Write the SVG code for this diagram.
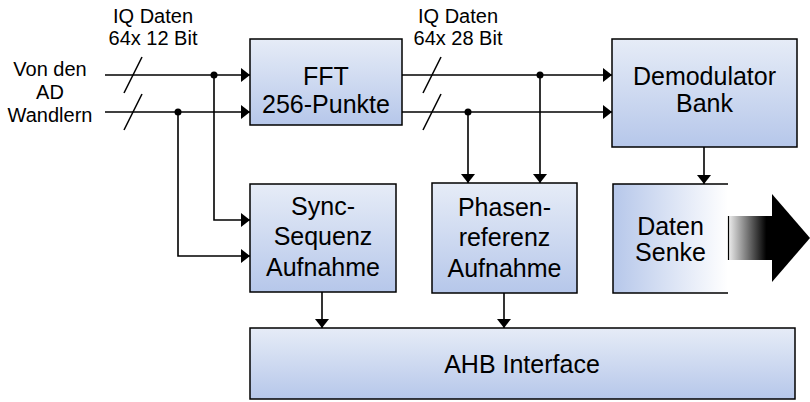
<svg xmlns="http://www.w3.org/2000/svg" width="810" height="402" viewBox="0 0 810 402">
  <style>
    .box { fill: url(#boxFill); stroke: #000; stroke-width: 1.5; }
    .lbl { font-family: "Liberation Sans", Arial, sans-serif; font-size: 20px; fill: #000; text-anchor: middle; }
    .txt { font-family: "Liberation Sans", Arial, sans-serif; font-size: 25px; fill: #000; text-anchor: middle; }
    .wire { fill: none; stroke: #000; stroke-width: 1.6; }
    .arr { marker-end: url(#head); }
    .dot { fill: #000; }
  </style>
  <defs>
    <linearGradient id="boxFill" x1="0" y1="0" x2="0" y2="1">
      <stop offset="0" stop-color="#e6ecf7"/>
      <stop offset="1" stop-color="#b6c7ea"/>
    </linearGradient>
    <linearGradient id="sinkFill" x1="0" y1="0" x2="1" y2="0">
      <stop offset="0" stop-color="#b6c7ea"/>
      <stop offset="1" stop-color="#ffffff"/>
    </linearGradient>
    <linearGradient id="outFill" x1="0" y1="0" x2="1" y2="0">
      <stop offset="0" stop-color="#f0f0f0"/>
      <stop offset="0.85" stop-color="#000000"/>
      <stop offset="1" stop-color="#000000"/>
    </linearGradient>
    <marker id="head" markerUnits="userSpaceOnUse" markerWidth="10" markerHeight="14" refX="9" refY="7" orient="auto">
      <path d="M0,0 L9,7 L0,14 z" fill="#000"/>
    </marker>
  </defs>

  <!-- bus labels -->
  <g id="labels">
    <text class="lbl" x="153" y="23">IQ Daten</text>
    <text class="lbl" x="153" y="45">64x 12 Bit</text>
    <text class="lbl" x="458" y="23">IQ Daten</text>
    <text class="lbl" x="458" y="45">64x 28 Bit</text>
    <text class="lbl" x="50" y="76">Von den</text>
    <text class="lbl" x="50" y="99">AD</text>
    <text class="lbl" x="50" y="122">Wandlern</text>
  </g>

  <!-- blocks -->
  <g id="fft">
    <rect class="box" x="250" y="39" width="152" height="86"/>
    <text class="txt" x="326" y="85">FFT</text>
    <text class="txt" x="326" y="113">256-Punkte</text>
  </g>
  <g id="demod">
    <rect class="box" x="612" y="39" width="185" height="108"/>
    <text class="txt" x="704.5" y="85">Demodulator</text>
    <text class="txt" x="704.5" y="112">Bank</text>
  </g>
  <g id="sync">
    <rect class="box" x="250" y="184" width="146" height="108"/>
    <text class="txt" x="323" y="215">Sync-</text>
    <text class="txt" x="323" y="245">Sequenz</text>
    <text class="txt" x="323" y="276">Aufnahme</text>
  </g>
  <g id="phase">
    <rect class="box" x="432" y="183" width="145" height="110"/>
    <text class="txt" x="504.5" y="216">Phasen-</text>
    <text class="txt" x="504.5" y="246">referenz</text>
    <text class="txt" x="504.5" y="277">Aufnahme</text>
  </g>
  <g id="sink">
    <rect x="613" y="184" width="115" height="109" fill="url(#sinkFill)"/>
    <path d="M728,184 H613 V293 H728" fill="none" stroke="#000" stroke-width="1.5"/>
    <text class="txt" x="670.5" y="235">Daten</text>
    <text class="txt" x="670.5" y="261">Senke</text>
  </g>
  <g id="output">
    <rect x="728" y="216" width="45" height="44" fill="url(#outFill)"/>
    <line x1="728.5" y1="216" x2="728.5" y2="260" stroke="#000" stroke-width="1.2"/>
    <path d="M772,194 L810,238 L772,282 z" fill="#000"/>
  </g>
  <g id="ahb">
    <rect class="box" x="250" y="328" width="545" height="71"/>
    <text class="txt" x="522" y="373">AHB Interface</text>
  </g>

  <!-- connectors -->
  <g id="connectors">
    <line class="wire arr" x1="105" y1="75" x2="250" y2="75"/>
    <line class="wire arr" x1="105" y1="112" x2="250" y2="112"/>
    <line class="wire" x1="124" y1="93" x2="142" y2="57"/>
    <line class="wire" x1="124" y1="130" x2="142" y2="94"/>
    <path class="wire arr" d="M214,75 V220 H250"/>
    <path class="wire arr" d="M178,112 V256 H250"/>
    <circle class="dot" cx="214" cy="75" r="3.5"/>
    <circle class="dot" cx="178" cy="112" r="3.5"/>

    <line class="wire arr" x1="402" y1="75" x2="612" y2="75"/>
    <line class="wire arr" x1="402" y1="112" x2="612" y2="112"/>
    <line class="wire" x1="423" y1="93" x2="441" y2="57"/>
    <line class="wire" x1="423" y1="130" x2="441" y2="94"/>
    <line class="wire arr" x1="540" y1="75" x2="540" y2="183"/>
    <line class="wire arr" x1="468" y1="112" x2="468" y2="183"/>
    <circle class="dot" cx="540" cy="75" r="3.5"/>
    <circle class="dot" cx="468" cy="112" r="3.5"/>

    <line class="wire arr" x1="704" y1="147" x2="704" y2="184"/>
    <line class="wire arr" x1="322" y1="292" x2="322" y2="328"/>
    <line class="wire arr" x1="504" y1="293" x2="504" y2="328"/>
  </g>
</svg>
